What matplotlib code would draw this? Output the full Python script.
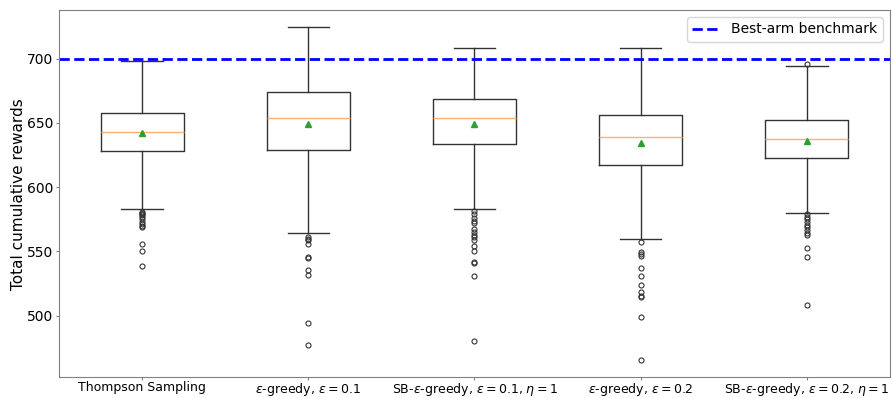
import matplotlib
matplotlib.use("Agg")
import matplotlib.pyplot as plt

labels = ["Thompson Sampling",
          r"$\epsilon$-greedy, $\epsilon=0.1$",
          r"SB-$\epsilon$-greedy, $\epsilon=0.1$, $\eta=1$",
          r"$\epsilon$-greedy, $\epsilon=0.2$",
          r"SB-$\epsilon$-greedy, $\epsilon=0.2$, $\eta=1$"]

# box statistics
q1 = [628.3, 629.1, 634.0, 617.4, 623.1]
med = [643.3, 654.2, 654.2, 639.2, 637.8]
q3 = [657.5, 674.4, 668.9, 656.2, 652.1]
mean = [642.3, 649.3, 649.3, 634.5, 635.8]
whislo = [582.7, 564.3, 582.7, 559.9, 580.3]
whishi = [698.4, 725.1, 708.3, 708.3, 694.0]
fliers = [
    [581, 580, 579, 578, 577, 575, 573, 571, 570, 569, 556, 550, 539],
    [561.2, 560, 558.6, 556, 545.5, 545.1, 535.3, 531.4, 494.1, 477.2],
    [581.1, 578.8, 576.2, 573.9, 571.8, 567.1, 565.3, 563.0, 560.9, 558.8,
     553.9, 550.6, 541.5, 541.0, 531.2, 479.9],
    [557, 549.5, 548, 546.2, 537.4, 531.2, 524.2, 518.2, 515.6, 514.6, 499, 465.3],
    [696.1, 578.8, 577.0, 574.9, 572.8, 570.8, 568.7, 566.6, 564.6, 563.0,
     552.6, 545.9, 508.3],
]
benchmark = 700

stats = []
for i in range(len(labels)):
    stats.append(dict(label=labels[i], q1=q1[i], med=med[i], q3=q3[i], mean=mean[i],
                      whislo=whislo[i], whishi=whishi[i], fliers=fliers[i]))

fig = plt.figure(figsize=(8.94, 3.98), dpi=100)
ax = fig.add_axes([0.066, 0.052, 0.9295, 0.923])
ax.bxp(stats, showmeans=True, widths=0.5,
       boxprops=dict(color="0.2", linewidth=1),
       whiskerprops=dict(color="0.2", linewidth=1),
       capprops=dict(color="0.2", linewidth=1),
       medianprops=dict(color="#ffb070", linewidth=1),
       meanprops=dict(marker="^", markerfacecolor="tab:green", markeredgecolor="tab:green", markersize=4),
       flierprops=dict(marker="o", markersize=3.6, markerfacecolor="none", markeredgecolor="0.2", markeredgewidth=0.8))
ax.axhline(benchmark, color="blue", linestyle="--", linewidth=2, label="Best-arm benchmark")
ax.set_xlim(0.5, 5.5)
ax.set_ylim(452, 738)
ax.set_yticks([500, 550, 600, 650, 700])
ax.tick_params(axis="y", labelsize=10, length=2, pad=2, color="0.5")
ax.tick_params(axis="x", labelsize=9, length=2, pad=1, color="0.5")
ax.set_ylabel("Total cumulative rewards", fontsize=11, labelpad=1)
for s in ax.spines.values():
    s.set_color("0.5")
ax.legend(loc="upper right", fontsize=10)
fig.savefig("out.png", dpi=100)
